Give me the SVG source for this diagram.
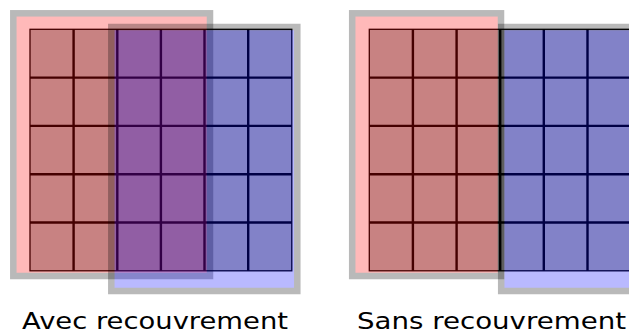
<svg xmlns="http://www.w3.org/2000/svg" width="629" height="333" viewBox="0 0 629 333">
<style>
.cells{fill:#b4b4b4;stroke:#000;stroke-width:1.3}
.gl{stroke:#000;stroke-width:2.4;fill:none}
.red{fill:#ff0000;stroke:#000;stroke-width:6.5;opacity:0.27}
.blue{fill:#0000ff;stroke:#000;stroke-width:6.5;opacity:0.27}
.lbl{font-family:"DejaVu Sans",sans-serif;font-size:23px;fill:#000}
</style>
<rect width="629" height="333" fill="#fff"/>
<g id="avec">
  <g id="grid-left">
    <rect class="cells" x="30" y="29.3" width="261.8" height="241.5"/>
    <path class="gl" d="M73.6 29.3V270.8M117.3 29.3V270.8M160.9 29.3V270.8M204.5 29.3V270.8M248.2 29.3V270.8M30 77.6H291.8M30 125.9H291.8M30 174.2H291.8M30 222.5H291.8"/>
  </g>
  <rect id="red-left" class="red" x="13.3" y="13.3" width="196.7" height="262.7"/>
  <rect id="blue-left" class="blue" x="111.3" y="27" width="186" height="264"/>
  <text id="label-avec" class="lbl" x="22" y="329" textLength="266" lengthAdjust="spacingAndGlyphs">Avec recouvrement</text>
</g>
<g id="sans">
  <g id="grid-right">
    <rect class="cells" x="369.3" y="29.3" width="261.8" height="241.5"/>
    <path class="gl" d="M412.9 29.3V270.8M456.6 29.3V270.8M500.2 29.3V270.8M543.8 29.3V270.8M587.5 29.3V270.8M369.3 77.6H631.1M369.3 125.9H631.1M369.3 174.2H631.1M369.3 222.5H631.1"/>
  </g>
  <rect id="red-right" class="red" x="352.2" y="13.3" width="148.8" height="262.7"/>
  <rect id="blue-right" class="blue" x="501.2" y="27" width="186" height="264"/>
  <text id="label-sans" class="lbl" x="357" y="329" textLength="269" lengthAdjust="spacingAndGlyphs">Sans recouvrement</text>
</g>
<g id="connectors"/>
</svg>
